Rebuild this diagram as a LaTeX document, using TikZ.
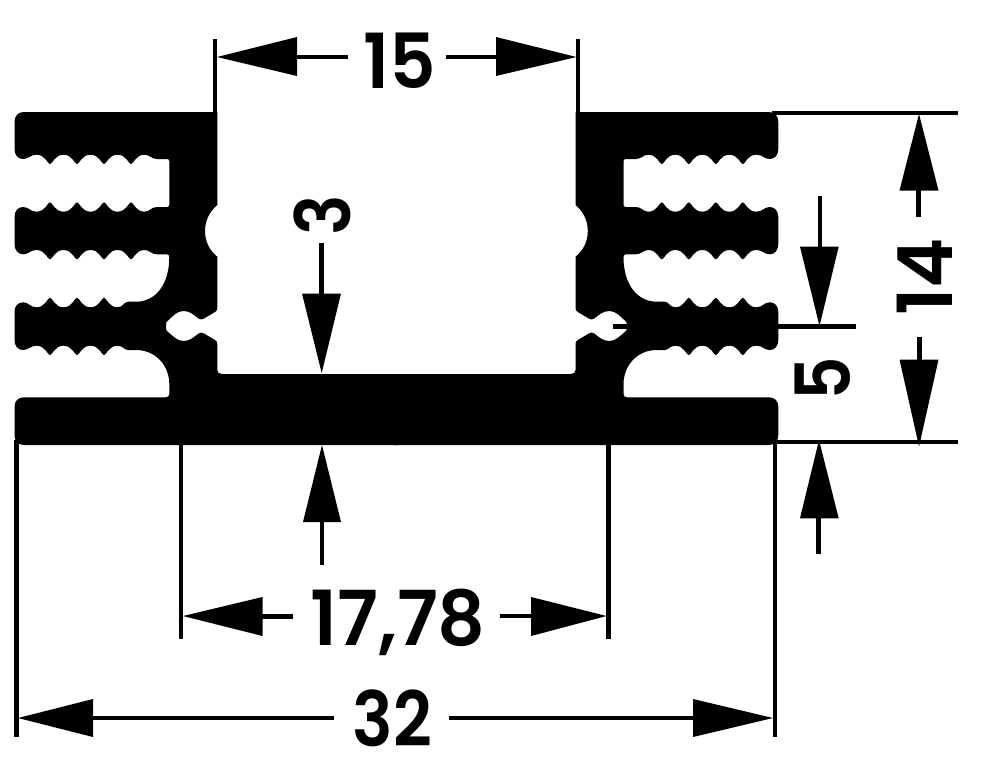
\documentclass[tikz,border=0pt]{standalone}
\usepackage{fontspec}
\usepackage{graphicx}
\newfontfamily\dimfont{Poppins SemiBold}
\tikzset{
  dimline/.style={line width=4.8pt,black},
  extline/.style={line width=4.8pt,black},
  dimarrow/.style={fill=black,draw=none},
  dimtext/.style={font=\dimfont\fontsize{76}{76}\selectfont,inner sep=0pt,text=black,anchor=base},
  profile/.style={fill=black,draw=none}
}
% one wave period: scallop -> bump tip -> scallop; #1 = x of the start, #2 = y of the scallop, #3 = +/-period, #4 = +/-depth
\def\wave#1#2#3#4{.. controls (#1+#3*0.33,#2) and (#1+#3*0.41,#2+#4) .. (#1+#3*0.5,#2+#4) .. controls (#1+#3*0.59,#2+#4) and (#1+#3*0.67,#2) .. (#1+#3,#2)}
\def\halfprofile{(217.3,112) -- (24,112) .. controls (18,112) and (14.5,116) .. (14.5,122) -- (14.5,149)
 .. controls (14.5,155) and (18,159) .. (23,159) .. controls (29,159) and (30,154.7) .. (36.5,154.7)
 \wave{36.5}{154.7}{27}{9.4} \wave{63.5}{154.7}{27}{9.4} \wave{90.5}{154.7}{27}{9.4} \wave{117.5}{154.7}{27}{9.4}
 .. controls (150,154.7) and (151,159) .. (157,159) -- (167,159) .. controls (168.5,159) and (169.3,160) .. (169.3,161)
 -- (169.3,205) .. controls (169.3,206) and (168.5,207) .. (167,207) -- (157,207) .. controls (151,207) and (150,211.7) .. (144.5,211.7)
 \wave{144.5}{211.7}{-27}{-9.4} \wave{117.5}{211.7}{-27}{-9.4} \wave{90.5}{211.7}{-27}{-9.4} \wave{63.5}{211.7}{-27}{-9.4}
 .. controls (30,211.7) and (29,207) .. (23,207) .. controls (18,207) and (14.5,211) .. (14.5,217) -- (14.5,244)
 .. controls (14.5,250) and (18,254.3) .. (23,254.3) .. controls (29,254.3) and (30,250) .. (36.5,250)
 \wave{36.5}{250}{27}{9.4} \wave{63.5}{250}{27}{9.4} \wave{90.5}{250}{27}{9.4} \wave{117.5}{250}{27}{9.4}
 .. controls (150,250) and (151,254.3) .. (157,254.3) -- (167,254.3) .. controls (168.5,254.3) and (169.3,255.5) .. (169.3,257)
 .. controls (169.3,284) and (156,301.7) .. (136,301.7) -- (128,301.7) .. controls (124,301.7) and (123,307.3) .. (117.5,307.3)
 \wave{117.5}{307.3}{-27}{-9.6} \wave{90.5}{307.3}{-27}{-9.6} \wave{63.5}{307.3}{-27}{-9.6}
 .. controls (30,307.3) and (29,302.3) .. (23,302.3) .. controls (18,302.3) and (14.5,306) .. (14.5,312) -- (14.5,340)
 .. controls (14.5,346) and (18,350) .. (23,350) .. controls (29,350) and (30,345.7) .. (36.5,345.7)
 \wave{36.5}{345.7}{27}{9.4} \wave{63.5}{345.7}{27}{9.4} \wave{90.5}{345.7}{27}{9.4}
 .. controls (123,345.7) and (124,350) .. (128,350) -- (136,350) .. controls (156,350) and (169.3,366) .. (169.3,384)
 -- (169.3,394) .. controls (169.3,396) and (168,397.3) .. (166,397.3) -- (24,397.3)
 .. controls (18,397.3) and (14.5,401) .. (14.5,407) -- (14.5,435) .. controls (14.5,441) and (18,445) .. (24,445)
 -- (398,445) -- (398,374) -- (222,374) .. controls (219,374) and (217.3,372.5) .. (217.3,370)
 -- (217.3,344) .. controls (217.3,342) and (216.5,341) .. (215,340) -- (204,333.5)
 .. controls (202,332.3) and (200.5,332.3) .. (198.5,333.5) .. controls (194,337) and (190,341) .. (183.5,341)
 .. controls (177,341) and (173,336) .. (168,332) .. controls (166.5,331) and (166,330) .. (166,328)
 -- (166,324) .. controls (166,322.5) and (166.5,321.5) .. (168,320.5)
 .. controls (173,316) and (177,311) .. (183.5,311) .. controls (190,311) and (194,315) .. (198.5,318.5)
 .. controls (200.5,319.8) and (202,319.8) .. (204,318.5) -- (215,312) .. controls (216.5,311) and (217.3,310) .. (217.3,308)
 -- (217.3,256.7) .. controls (210,251) and (205,242) .. (205,231) .. controls (205,220) and (210,211) .. (217.3,205)
 -- cycle}
\begin{document}
\begin{tikzpicture}[x=1pt,y=-1pt]
\useasboundingbox (0,0) rectangle (1000,782);
\fill[white] (0,0) rectangle (1000,782);
% profile, both halves
\path[profile] \halfprofile;
\begin{scope}[xshift=792.8pt,xscale=-1]
\path[profile] \halfprofile;
\end{scope}
% extension lines
\coordinate (t15a) at (215,39); \coordinate (t15b) at (215,114);
\coordinate (t15c) at (578,39); \coordinate (t15d) at (578,114);
\coordinate (e14a) at (772,113); \coordinate (e14b) at (958,113);
\coordinate (e5a) at (772,442); \coordinate (e5b) at (958,442);
\coordinate (e5c) at (613,326.5); \coordinate (e5d) at (856,326.5);
\coordinate (e17a) at (181,440); \coordinate (e17b) at (181,639);
\coordinate (e17c) at (608.5,440); \coordinate (e17d) at (608.5,639);
\coordinate (e32a) at (16.5,440); \coordinate (e32b) at (16.5,737);
\coordinate (e32c) at (775,440); \coordinate (e32d) at (775,737);
\draw[extline] (t15a) -- (t15b);
\draw[extline] (t15c) -- (t15d);
\draw[extline] (e14a) -- (e14b);
\draw[extline] (e5a) -- (e5b);
\draw[extline] (e5c) -- (e5d);
\draw[extline] (e17a) -- (e17b);
\draw[extline] (e17c) -- (e17d);
\draw[extline] (e32a) -- (e32b);
\draw[extline] (e32c) -- (e32d);
% 15
\node[dimtext] (n15) at (400,88) {\scalebox{0.95}[1]{15}};
\fill[dimarrow] (217,57) -- (297,37) -- (297,76) -- cycle;
\fill[dimarrow] (576.5,57) -- (496,37) -- (496,76) -- cycle;
\draw[dimline] (297,57) -- (348,57);
\draw[dimline] (446,57) -- (496,57);
% 17,78
\node[dimtext] (n17) at (398,645) {\scalebox{0.98}[1]{17,78}};
\fill[dimarrow] (183,616) -- (262.5,597) -- (262.5,636) -- cycle;
\fill[dimarrow] (606.5,616) -- (531,597) -- (531,636) -- cycle;
\draw[dimline] (262,616.5) -- (293,616.5);
\draw[dimline] (500,616) -- (531,616);
% 32
\node[dimtext] (n32) at (392.5,746) {\scalebox{0.89}[1]{32}};
\fill[dimarrow] (18,718) -- (93,699) -- (93,737) -- cycle;
\fill[dimarrow] (773,718) -- (693,699) -- (693,737) -- cycle;
\draw[dimline] (93,718) -- (334,718);
\draw[dimline] (449,718) -- (693,718);
% 3
\node[dimtext,rotate=90] (n3) at (350,215.5) {\scalebox{0.89}[1]{3}};
\fill[dimarrow] (321.7,373) -- (302,293.5) -- (341,293.5) -- cycle;
\fill[dimarrow] (322,445) -- (303,522) -- (341,522) -- cycle;
\draw[dimline] (321.7,243) -- (321.7,295);
\draw[dimline] (322,520) -- (322,565);
% 14
\node[dimtext,rotate=90] (n14) at (952,276.7) {14};
\fill[dimarrow] (919,114) -- (899.5,190.5) -- (938.5,190.5) -- cycle;
\fill[dimarrow] (919,446.5) -- (899.5,359.5) -- (938.5,359.5) -- cycle;
\draw[dimline] (918.5,189) -- (918.5,216.5);
\draw[dimline] (919.5,337) -- (919.5,361);
% 5
\node[dimtext,rotate=90] (n5) at (850.5,379) {\scalebox{0.89}[1]{5}};
\fill[dimarrow] (819.5,326) -- (800,246.7) -- (838.7,246.7) -- cycle;
\fill[dimarrow] (819,440) -- (800,518.3) -- (838.7,518.3) -- cycle;
\draw[dimline] (820,195.7) -- (820,248);
\draw[dimline] (818.7,517) -- (818.7,554);
\end{tikzpicture}
\end{document}
